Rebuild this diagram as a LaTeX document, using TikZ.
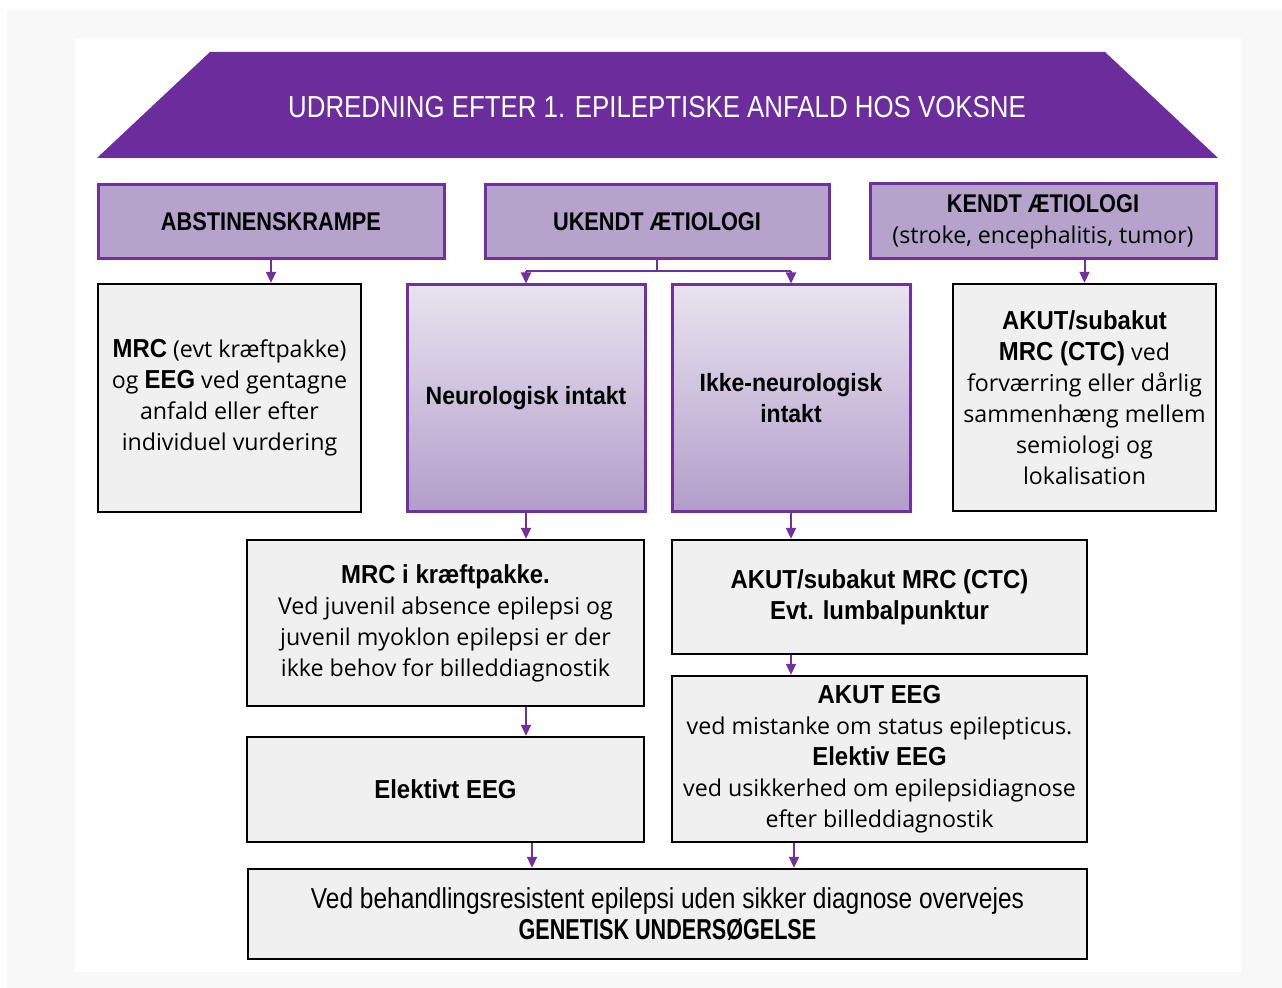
\documentclass[tikz,border=0pt]{standalone}
\usepackage{fontspec}
\setmainfont{Open Sans}
\newfontfamily\cond{Liberation Sans}[FakeStretch=0.85]
\newfontfamily\condn{Liberation Sans}[FakeStretch=0.75]
\newfontfamily\condw{Liberation Sans}[FakeStretch=0.92]
\usetikzlibrary{arrows.meta}
\definecolor{banner}{HTML}{6B2D9B}
\definecolor{lila}{HTML}{B5A3CB}
\definecolor{lilaline}{HTML}{7030A0}
\definecolor{boxgray}{HTML}{F0F0F0}
\definecolor{pagegray}{HTML}{F8F8F8}
\newcommand{\bcond}[1]{{\condw\bfseries\fontsize{13}{15.5}\selectfont #1}}

\begin{document}
\begin{tikzpicture}[x=0.5pt,y=-0.5pt,
  head/.style={rectangle,draw=lilaline,line width=1.5pt,fill=lila,align=center,
    font=\cond\bfseries\fontsize{12.8}{15.5}\selectfont},
  grad/.style={rectangle,draw=lilaline,line width=1.5pt,top color=lila!30,bottom color=lila!95!lilaline,
    align=center,font=\condw\bfseries\fontsize{12.5}{15.5}\selectfont},
  info/.style={rectangle,draw=black,line width=1.2pt,fill=boxgray,align=center,
    font=\fontsize{11.6}{15.5}\selectfont},
  pil/.style={draw=lilaline,line width=1pt,-{Triangle[width=5pt,length=5.5pt]}}]
\useasboundingbox (0,0) rectangle (1282,988);
\fill [pagegray] (7,10) rectangle (1282,988);
\fill [white] (75,38) rectangle (1241,972);
% banner
\fill [banner] (210,52) -- (1105,52) -- (1218,158) -- (97,158) -- cycle;
\node (title) at (657,107) [text=white,font=\cond\fontsize{15.2}{18}\selectfont]
  {UDREDNING EFTER 1. EPILEPTISKE ANFALD HOS VOKSNE};
% first row
\node (abst)   at  (271,222)   [head,minimum width=173pt,minimum height=37pt] {ABSTINENSKRAMPE};
\node (ukendt) at  (657,222)   [head,minimum width=172pt,minimum height=37pt] {UKENDT ÆTIOLOGI};
\node (kendt)  at (1043,221.5) [head,minimum width=173pt,minimum height=37.5pt]
  {KENDT ÆTIOLOGI\\{\mdseries\fontspec{Open Sans}\fontsize{11.6}{15.5}\selectfont(stroke, encephalitis, tumor)}};
% second row
\node (mrc)    at  (229.5,398) [info,minimum width=131.5pt,minimum height=114pt]
  {\bcond{MRC} (evt kræftpakke)\\og \bcond{EEG} ved gentagne\\anfald eller efter\\individuel vurdering};
\node (neuro)  at  (526,398.5) [grad,minimum width=119pt,minimum height=113.5pt] {Neurologisk intakt};
\node (ikke)   at  (791,398.5) [grad,minimum width=119pt,minimum height=113.5pt] {Ikke-neurologisk\\intakt};
\node (akut)   at (1084.5,397.5) [info,minimum width=131.5pt,minimum height=113.5pt]
  {\bcond{AKUT/subakut}\\\bcond{MRC (CTC)} ved\\forværring eller dårlig\\sammenhæng mellem\\semiologi og\\lokalisation};
% third and fourth row
\node (kraeft) at  (445.5,623) [info,minimum width=198.5pt,minimum height=83pt]
  {\bcond{MRC i kræftpakke.}\\Ved juvenil absence epilepsi og\\juvenil myoklon epilepsi er der\\ikke behov for billeddiagnostik};
\node (lumbal) at  (879.5,597) [info,minimum width=207.5pt,minimum height=57pt]
  {\bcond{AKUT/subakut MRC (CTC)}\\\bcond{Evt. lumbalpunktur}};
\node (elektivt) at (445.5,789.5) [info,minimum width=198.5pt,minimum height=52.5pt] {\bcond{Elektivt EEG}};
\node (akuteeg)  at (879.5,759)  [info,minimum width=207.5pt,minimum height=83pt]
  {\bcond{AKUT EEG}\\ved mistanke om status epilepticus.\\\bcond{Elektiv EEG}\\ved usikkerhed om epilepsidiagnose\\efter billeddiagnostik};
\node (genetisk) at (667.5,914) [info,minimum width=419.5pt,minimum height=45pt,font=\cond\fontsize{14.4}{15.5}\selectfont]
  {Ved behandlingsresistent epilepsi uden sikker diagnose overvejes\\{\condn\bfseries GENETISK UNDERSØGELSE}};
% connectors
\draw [pil] (abst.south) -- (abst.south |- mrc.north);
\draw [pil] (akut.north |- kendt.south) -- (akut.north);
\draw [draw=lilaline,line width=1pt] (ukendt.south) -- ++(0,11) coordinate (split);
\draw [draw=lilaline,line width=1pt] (neuro.north |- split) -- (ikke.north |- split);
\draw [pil] (neuro.north |- split) -- (neuro.north);
\draw [pil] (ikke.north |- split) -- (ikke.north);
\draw [pil] (neuro.south) -- (neuro.south |- kraeft.north);
\draw [pil] (ikke.south) -- (ikke.south |- lumbal.north);
\draw [pil] (neuro.south |- kraeft.south) -- (neuro.south |- elektivt.north);
\draw [pil] (ikke.south |- lumbal.south) -- (ikke.south |- akuteeg.north);
\draw [pil] ([xshift=3pt]neuro.south |- elektivt.south) -- ([xshift=3pt]neuro.south |- genetisk.north);
\draw [pil] ([xshift=1.5pt]ikke.south |- akuteeg.south) -- ([xshift=1.5pt]ikke.south |- genetisk.north);
\end{tikzpicture}
\end{document}
